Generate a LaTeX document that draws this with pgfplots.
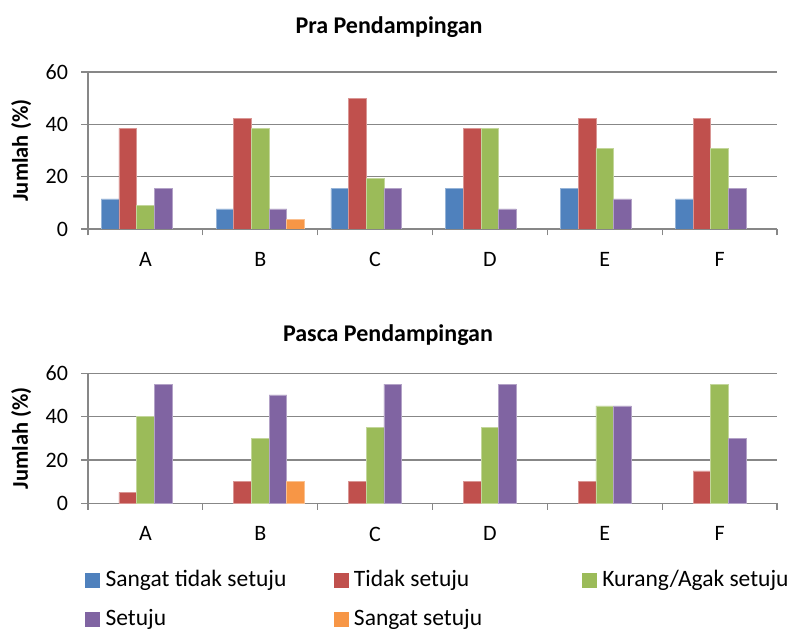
\documentclass[border=0pt]{standalone}
\usepackage{fontspec}
\setmainfont{Carlito}
\usepackage{pgfplots}
\pgfplotsset{compat=1.18}
\definecolor{cblue}{HTML}{4F81BD}
\definecolor{cred}{HTML}{C0504D}
\definecolor{cgreen}{HTML}{9BBB59}
\definecolor{cpurple}{HTML}{8064A2}
\definecolor{corange}{HTML}{F79646}
\definecolor{cgrid}{HTML}{878787}
\pgfplotsset{
  mybase/.style={
    scale only axis, width=689bp,
    xmin=-0.5, xmax=5.5, ymin=0, ymax=60,
    ytick={0,20,40,60},
    xtick={-0.5,0.5,...,5.5}, xticklabels={,,,,,,},
    extra x ticks={0,1,2,3,4,5}, extra x tick labels={A,B,C,D,E,F},
    extra x tick style={major tick length=0pt, grid=none, xticklabel style={yshift=-20bp}},
    axis lines*=left,
    axis line style={cgrid, line width=1.3bp},
    ymajorgrids, grid style={cgrid, line width=1.1bp},
    tick align=outside,
    major tick length=6.5bp,
    tick style={cgrid, line width=1.2bp},
    tick label style={font=\fontsize{22bp}{26bp}\selectfont},
    yticklabel style={xshift=-10bp},
    /pgf/number format/assume math mode=true,
    ylabel={Jumlah (\%)},
    every axis y label/.style={at={(axis description cs:-0.097,0.5)}, rotate=90, anchor=center, font=\bfseries\fontsize{22.5bp}{26bp}\selectfont},
    ybar, bar width=0.154,
  },
}
\begin{document}
\begin{tikzpicture}[x=1bp,y=1bp]
\useasboundingbox (0,0) rectangle (792bp,629bp);
% ---------- Pra Pendampingan ----------
\begin{axis}[mybase, at={(88bp,400bp)}, anchor=south west, height=157bp]
\addplot[fill=cblue, draw=cblue!60!white, line width=0.6bp, bar shift=-0.308] coordinates {(0,11.5) (1,7.7) (2,15.4) (3,15.4) (4,15.4) (5,11.5)};
\addplot[fill=cred, draw=cred!60!white, line width=0.6bp, bar shift=-0.154] coordinates {(0,38.5) (1,42.3) (2,50) (3,38.5) (4,42.3) (5,42.3)};
\addplot[fill=cgreen, draw=cgreen!60!white, line width=0.6bp, bar shift=0] coordinates {(0,8.9) (1,38.5) (2,19.2) (3,38.5) (4,30.8) (5,30.8)};
\addplot[fill=cpurple, draw=cpurple!60!white, line width=0.6bp, bar shift=0.154] coordinates {(0,15.4) (1,7.7) (2,15.4) (3,7.7) (4,11.5) (5,15.4)};
\addplot[fill=corange, draw=corange!60!white, line width=0.6bp, bar shift=0.308] coordinates {(1,3.85)};
\end{axis}
\node[font=\bfseries\fontsize{24bp}{28bp}\selectfont] at (389bp,602bp) {Pra Pendampingan};
% ---------- Pasca Pendampingan ----------
\begin{axis}[mybase, at={(88bp,125.7bp)}, anchor=south west, height=130bp,
  legend columns=3,
  legend style={at={(-0.0044,-0.513)}, anchor=north west, draw=none, fill=none,
    inner sep=0pt, column sep=0pt, row sep=18bp,
    font=\fontsize{23.5bp}{28bp}\selectfont,
    nodes={inner sep=0pt, anchor=west, text height=16bp, text depth=5bp}},
]
\addplot[fill=cred, draw=cred!60!white, line width=0.6bp, bar shift=-0.154, forget plot] coordinates {(0,5) (1,10) (2,10) (3,10) (4,10) (5,15)};
\addplot[fill=cgreen, draw=cgreen!60!white, line width=0.6bp, bar shift=0, forget plot] coordinates {(0,40) (1,30) (2,35) (3,35) (4,45) (5,55)};
\addplot[fill=cpurple, draw=cpurple!60!white, line width=0.6bp, bar shift=0.154, forget plot] coordinates {(0,55) (1,50) (2,55) (3,55) (4,45) (5,30)};
\addplot[fill=corange, draw=corange!60!white, line width=0.6bp, bar shift=0.308, forget plot] coordinates {(1,10)};
\addlegendimage{legend image code/.code={\fill[cblue] (0bp,-7bp) rectangle (14bp,7bp);}}
\addlegendentry{\hspace{6bp}\makebox[228bp][l]{Sangat tidak setuju}}
\addlegendimage{legend image code/.code={\fill[cred] (0bp,-7bp) rectangle (14bp,7bp);}}
\addlegendentry{\hspace{6bp}\makebox[228bp][l]{Tidak setuju}}
\addlegendimage{legend image code/.code={\fill[cgreen] (0bp,-7bp) rectangle (14bp,7bp);}}
\addlegendentry{\hspace{6bp}\makebox[190bp][l]{Kurang/Agak setuju}}
\addlegendimage{legend image code/.code={\fill[cpurple] (0bp,-7bp) rectangle (14bp,7bp);}}
\addlegendentry{\hspace{6bp}\makebox[228bp][l]{Setuju}}
\addlegendimage{legend image code/.code={\fill[corange] (0bp,-7bp) rectangle (14bp,7bp);}}
\addlegendentry{\hspace{6bp}\makebox[228bp][l]{Sangat setuju}}
\end{axis}
\node[font=\bfseries\fontsize{24bp}{28bp}\selectfont] at (388bp,294bp) {Pasca Pendampingan};
\end{tikzpicture}
\end{document}
